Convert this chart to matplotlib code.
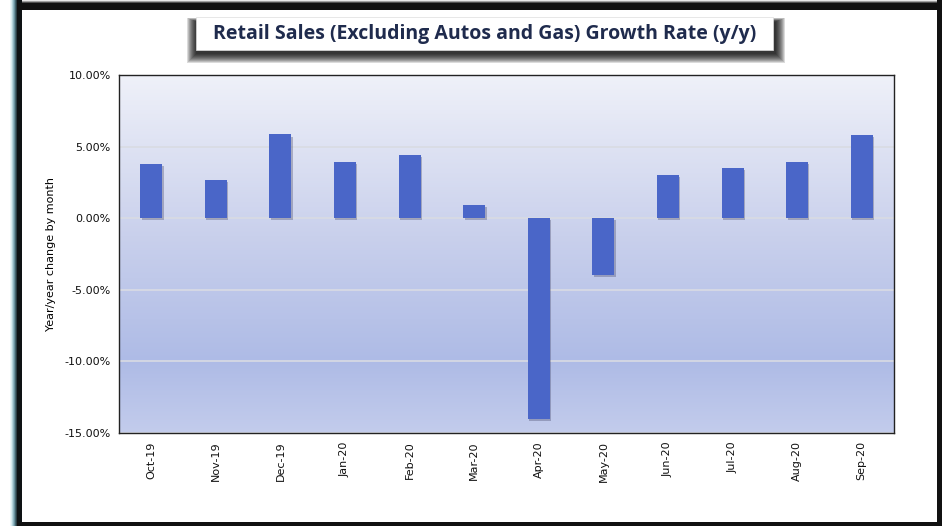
import matplotlib
matplotlib.use("Agg")
import matplotlib.pyplot as plt
import matplotlib.patheffects as pe
import numpy as np
from matplotlib.colors import LinearSegmentedColormap
from matplotlib.patches import Rectangle
from matplotlib.ticker import PercentFormatter

plt.rcParams["axes.unicode_minus"] = False

months = ["Oct-19", "Nov-19", "Dec-19", "Jan-20", "Feb-20", "Mar-20",
          "Apr-20", "May-20", "Jun-20", "Jul-20", "Aug-20", "Sep-20"]
growth = [3.78, 2.65, 5.85, 3.9, 4.4, 0.9, -14.05, -3.95, 3.0, 3.5, 3.9, 5.8]

TITLE = "Retail Sales (Excluding Autos and Gas) Growth Rate (y/y)"
YLABEL = "Year/year change by month"

fig = plt.figure(figsize=(9.42, 5.26), dpi=100)
fig.patch.set_facecolor("white")

# outer frame (pixel coords, top-left origin)
W, H = 942, 526
def frect(x0, y0, x1, y1, **kw):
    fig.patches.append(Rectangle((x0 / W, 1 - y1 / H), (x1 - x0) / W, (y1 - y0) / H,
                                 transform=fig.transFigure, **kw))

for i, c in enumerate(["#eef6f8", "#d8ecf0", "#b5d3da", "#8fb5c0", "#6a929e", "#46666f", "#2a3e45"]):
    frect(10 + i, 0, 11 + i, H, color=c, lw=0)
for i, c in enumerate(["#e8e8e8", "#a0a0a0", "#505050"]):
    frect(17, i, W, i + 1, color=c, lw=0)
frect(17, 0, 22, H, color="#0e1214", lw=0)
frect(17, 3, W, 10, color="#111111", lw=0)
frect(17, 522, W, H, color="#111111", lw=0)
frect(937, 0, W, H, color="#111111", lw=0)

ax = fig.add_axes([119 / W, 1 - 433 / H, (894 - 119) / W, (433 - 75) / H])

# background gradient
grad = LinearSegmentedColormap.from_list(
    "bg", [(0, "#c3ccec"), (0.2, "#aebbe6"), (0.55, "#c9d0ec"), (1, "#eff1f9")])
ax.imshow(np.linspace(0, 1, 256).reshape(-1, 1), cmap=grad, aspect="auto",
          extent=[-0.5, len(months) - 0.5, -15, 10], origin="lower", zorder=0)

x = np.arange(len(months))
bars = ax.bar(x, growth, width=0.34, color="#4a66c8", zorder=3)
for b in bars:
    b.set_path_effects([pe.SimplePatchShadow(offset=(1, -1.5), shadow_rgbFace="#333355",
                                             alpha=0.3), pe.Normal()])

ax.set_xlim(-0.5, len(months) - 0.5)
ax.set_ylim(-15, 10)
ax.set_yticks([-15, -10, -5, 0, 5, 10])
ax.yaxis.set_major_formatter(PercentFormatter(decimals=2))
ax.grid(axis="y", color="#d9dbe3", lw=1.2, zorder=1)
ax.set_axisbelow(True)
ax.set_xticks(x)
ax.set_xticklabels(months, rotation=90, fontsize=8, family="DejaVu Sans")
ax.tick_params(axis="both", length=0, labelsize=8, pad=6, colors="#111111")
for s in ax.spines.values():
    s.set_color("#222222")
    s.set_linewidth(1)
ax.set_ylabel(YLABEL, fontsize=8, labelpad=6)

# title box with blurred shadow, mostly below
for g in range(10, 0, -1):
    frect(196 + 1 - g, 17 + 5 - g * 0.4, 773 + 2 + g, 50 + 3 + g, color="black", alpha=0.14, lw=0)
frect(196, 17, 773, 50, facecolor="white", edgecolor="#dddddd", lw=0.5)
fig.text((196 + 773) / 2 / W, 1 - 34 / H, TITLE, ha="center", va="center",
         fontsize=14, fontweight="bold", color="#1f2b4d", family="Open Sans")

fig.savefig("out.png", dpi=100)
